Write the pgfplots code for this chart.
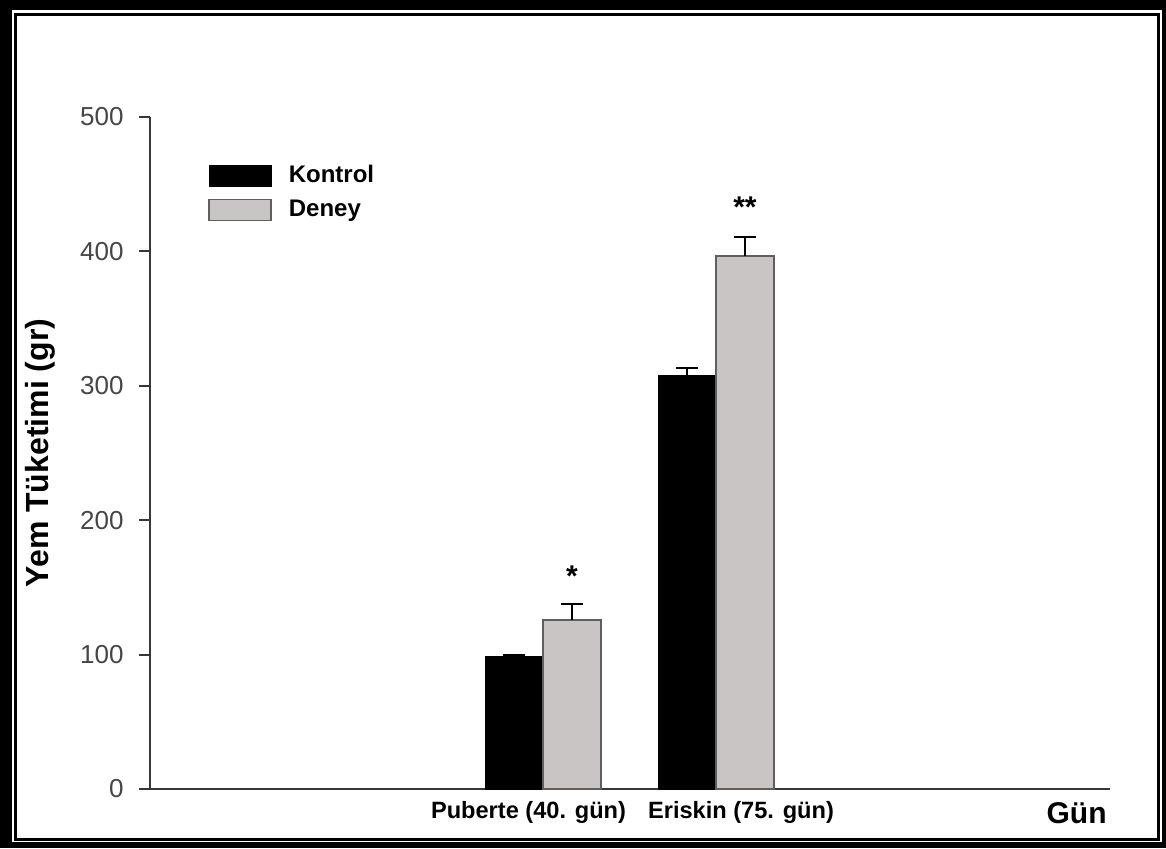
\documentclass[border=0pt]{standalone}
\usepackage{fontspec}
\setmainfont{Liberation Sans}
\usepackage{pgfplots}
\pgfplotsset{compat=1.18}
\definecolor{deney}{RGB}{201,197,197}
\definecolor{deneyedge}{RGB}{95,95,95}
\definecolor{axisgray}{RGB}{55,55,55}
\definecolor{tickgray}{RGB}{70,70,70}
\begin{document}
\begin{tikzpicture}
\begin{scope}[shift={(-75pt,394.5pt)},x=0.5pt,y=-0.5pt]
\fill[black] (0,0) rectangle (1166,848);
\fill[white] (12,10) rectangle (1162,842);
\draw[black,line width=1.5pt] (15.5,14.5) rectangle (1158.5,839);
\end{scope}
\begin{axis}[
  scale only axis, width=480pt, height=336pt,
  at={(0,0)}, anchor=south west,
  xmin=-1.2717, xmax=4.2775, ymin=0, ymax=500,
  axis x line*=bottom, axis y line*=left,
  axis line style={axisgray, line width=1pt},
  ytick={0,100,200,300,400,500},
  xtick={0.9162,2.1445},
  xticklabels={Puberte (40. gün), Eriskin (75. gün)},
  xtick align=inside,
  x tick style={draw=none},
  ytick align=outside,
  y tick style={axisgray, line width=1pt},
  major tick length=5.5pt,
  yticklabel style={font=\fontsize{13}{15}\selectfont, text=tickgray, inner sep=0pt, xshift=-7.5pt},
  xticklabel style={font=\bfseries\fontsize{11.8}{14}\selectfont, text=black, inner sep=0pt, anchor=north, yshift=-0.5pt},
  /pgf/number format/assume math mode=true,
  ylabel={Yem Tüketimi (gr)},
  ylabel style={font=\bfseries\fontsize{16}{18}\selectfont, at={([xshift=-55pt]axis description cs:0,0.5)}, anchor=center},
  xlabel={Gün},
  xlabel style={font=\bfseries\fontsize{15}{17}\selectfont, at={([xshift=-1.5pt,yshift=-6.5pt]axis description cs:1,0)}, anchor=north east, inner sep=0pt},
  ybar, bar width=29pt,
  legend style={at={(axis description cs:0.054,0.936)}, anchor=north west, draw=none, fill=none,
    font=\bfseries\fontsize{12}{14}\selectfont, row sep=5.5pt, column sep=8.5pt,
    nodes={inner sep=0pt, text height=9pt, text depth=2.5pt}},
  legend cell align=left,
  legend image code/.code={\draw[#1] (0pt,-5.25pt) rectangle (31pt,5.25pt);},
  clip=false,
]
\addplot[fill=black, draw=black, bar shift=0pt,
  error bars/.cd, y dir=plus, y explicit,
  error bar style={line width=1pt, black},
  error mark options={rotate=90, mark size=5.5pt, line width=1pt, black}]
  coordinates {(0.8324,98.8) +- (0,1.0) (1.8324,308) +- (0,5)};
\addplot[fill=deney, draw=deneyedge, line width=0.8pt, bar shift=0pt,
  error bars/.cd, y dir=plus, y explicit,
  error bar style={line width=1pt, black},
  error mark options={rotate=90, mark size=5.5pt, line width=1pt, black}]
  coordinates {(1.1676,125.7) +- (0,11.9) (2.1676,396.6) +- (0,14)};
\legend{Kontrol, Deney}
\node[font=\bfseries\fontsize{15}{15}\selectfont, anchor=base] at (axis cs:1.1676,151) {*};
\node[font=\bfseries\fontsize{15}{15}\selectfont, anchor=base] at (axis cs:2.1676,425.5) {**};
\end{axis}
\end{tikzpicture}
\end{document}
